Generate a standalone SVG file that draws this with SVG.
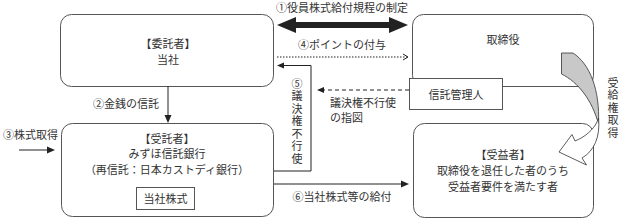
<svg xmlns="http://www.w3.org/2000/svg" width="620" height="219" viewBox="0 0 620 219">
<style>
.box{fill:#fff;stroke:#555;stroke-width:1}
.t{font-family:"Noto Sans CJK JP","Noto Sans CJK SC",sans-serif;font-size:11px;fill:#333}
.c{text-anchor:middle}
.v{writing-mode:vertical-rl;text-anchor:start;letter-spacing:1.5px}
.ln{stroke:#222;stroke-width:1;fill:none}
.ah{fill:#222;stroke:none}
</style>
<rect width="620" height="219" fill="#fff"/>
<g id="node-itakusha">
<rect class="box" x="60.5" y="14.5" width="213" height="72" rx="11"/>
<text class="t c" x="168" y="48">【委託者】</text>
<text class="t c" x="168" y="64" font-size="12">当社</text>
</g>
<g id="node-jutakusha">
<rect class="box" x="61.5" y="123.5" width="212" height="93" rx="11"/>
<text class="t c" x="167" y="143">【受託者】</text>
<text class="t c" x="167" y="158">みずほ信託銀行</text>
<text class="t c" x="167" y="174">（再信託：日本カストディ銀行）</text>
<g id="node-toushakabu">
<rect class="box" x="136.5" y="187.5" width="58" height="22"/>
<text class="t c" x="165.5" y="203">当社株式</text>
</g>
</g>
<g id="node-torishimariyaku">
<rect class="box" x="412.5" y="14.5" width="181" height="72" rx="11"/>
<text class="t c" x="503" y="44" font-size="12">取締役</text>
</g>
<g id="node-shintakanri">
<rect class="box" x="409.5" y="78.5" width="93" height="31"/>
<text class="t c" x="456" y="99">信託管理人</text>
</g>
<g id="node-jueki">
<rect class="box" x="413.5" y="123.5" width="180" height="94" rx="11"/>
<text class="t c" x="503" y="159">【受益者】</text>
<text class="t c" x="503" y="175">取締役を退任した者のうち</text>
<text class="t c" x="503" y="191">受益者要件を満たす者</text>
</g>
<g id="connectors">
<polygon class="ah" points="277,25 296,17 296,22 389,22 389,17 408,25 389,33 389,28 296,28 296,33"/>
<text class="t c" x="342" y="12" font-size="10.5">①役員株式給付規程の制定</text>
<line class="ln" x1="277" y1="57" x2="407" y2="57" stroke-dasharray="1.5 1.5"/>
<polyline class="ln" points="403,54 408,57 403,60"/>
<text class="t c" x="342" y="49">④ポイントの付与</text>
<path class="ln" d="M274 171 H311 V65.5 H283"/>
<polygon class="ah" points="277,65.5 284,62.5 284,68.5"/>
<text class="t v" x="297" y="78" font-size="10">⑤議決権不行使</text>
<line class="ln" x1="409" y1="90" x2="323" y2="90" stroke-dasharray="4 3"/>
<polygon class="ah" points="317,90 324,87 324,93"/>
<text class="t" x="330" y="106.5" font-size="10.5">議決権不行使</text>
<text class="t" x="330" y="121.5" font-size="10.5">の指図</text>
<line class="ln" x1="168" y1="86" x2="168" y2="117"/>
<polygon class="ah" points="168,123 164.5,115 171.5,115"/>
<text class="t" x="93" y="108">②金銭の信託</text>
<line class="ln" x1="19" y1="150" x2="48" y2="150"/>
<polygon class="ah" points="55,150 47,146.5 47,153.5"/>
<text class="t" x="3" y="139">③株式取得</text>
<line class="ln" x1="274" y1="184" x2="402" y2="184"/>
<polygon class="ah" points="409,184 401,180.5 401,187.5"/>
<text class="t c" x="342" y="201">⑥当社株式等の給付</text>
<path d="M561.5 53 L573 53 C590 64 600 90 598.5 124 C592 100 578 82 561.5 74 Z" fill="#c8c8c8" stroke="#333" stroke-width="0.8"/>
<path d="M598.5 118 C600.5 137 594 151 582 158 L586.5 165 L559 152 L572 134.5 L575 141 C585 137 593 130 597 122 Z" fill="#fff" stroke="#333" stroke-width="0.8"/>
<text class="t v" x="613" y="77" font-size="9.5">受給権取得</text>
</g>
</svg>
